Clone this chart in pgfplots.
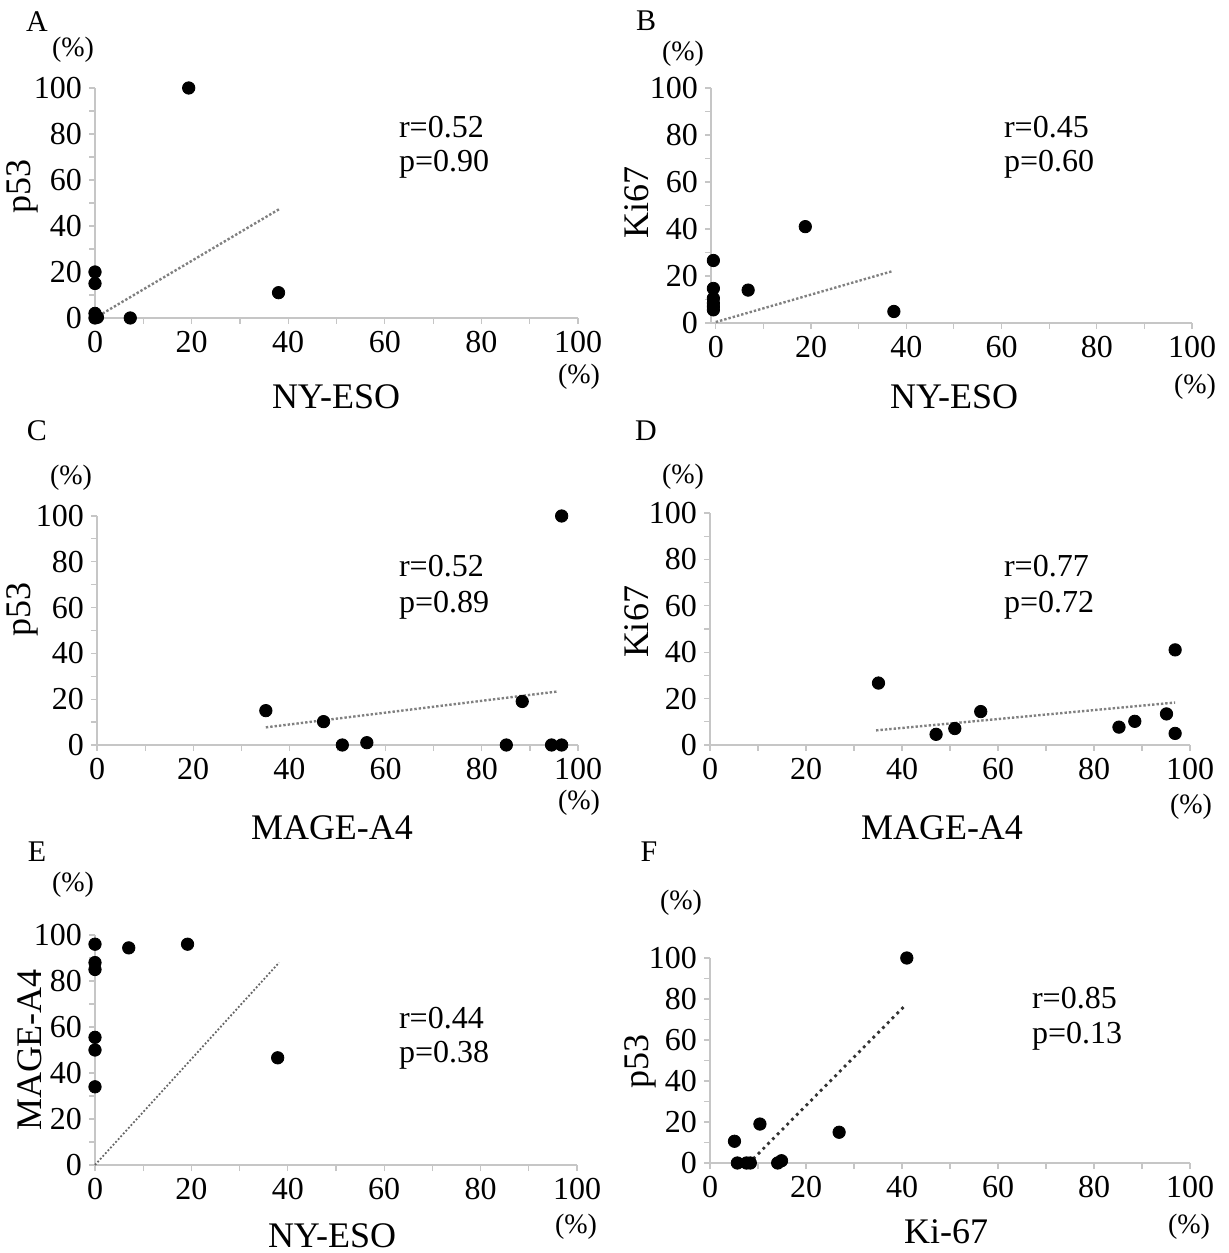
\documentclass[border=0pt]{standalone}
\usepackage{fontspec}
\setmainfont{Liberation Serif}
\usepackage{pgfplots}
\pgfplotsset{compat=1.18}
\newcommand\tickf{\fontsize{16}{18}\selectfont}
\newcommand\labf{\fontsize{18}{20}\selectfont}
\newcommand\rpf{\fontsize{16}{18}\selectfont}
\newcommand\letf{\fontsize{15}{17}\selectfont}
\newcommand\pctf{\fontsize{14}{16}\selectfont}
\pgfplotsset{
  panel/.style={scale only axis, anchor=south west,
    axis lines=left, axis line style={draw=gray!45, line width=0.8pt, -},
    xmin=0, xmax=100, ymin=0, ymax=100,
    xtick={0,20,...,100}, ytick={0,20,...,100},
    minor xtick={10,30,50,70,90}, minor ytick={10,30,50,70,90},
    tick style={draw=gray!45, line width=0.6pt},
    major tick length=3pt, minor tick length=3pt, tick align=outside,
    ticklabel style={font=\tickf},
    /pgf/number format/assume math mode=true,
    clip=false},
  pts/.style={only marks, mark=*, mark size=3.1pt, black},
  trend/.style={gray, densely dotted, line width=1.2pt}
}
\begin{document}
\begin{tikzpicture}
\path[use as bounding box] (0,0) rectangle (614pt,626.5pt);
% A
\begin{axis}[panel, at={(47.5pt,467.5pt)}, width=241.5pt, height=115pt]
\addplot[trend] coordinates {(0,0) (38.2,47.4)};
\addplot[pts] coordinates {(19.4,100) (0,20) (0,15) (0,2) (0,0) (0.5,0.3) (7.3,0) (38,11)};
\end{axis}
% B
\begin{axis}[panel, at={(355.5pt,465pt)}, width=240.5pt, height=117.5pt, xmin=-1]
\addplot[trend] coordinates {(0,0.4) (37,22)};
\addplot[pts] coordinates {(-0.5,26.6) (-0.5,14.7) (-0.5,10.5) (-0.5,8.4) (-0.5,7) (-0.5,5.6) (18.8,41) (6.8,14) (37.4,4.9)};
\end{axis}
% C
\begin{axis}[panel, at={(48.5pt,254pt)}, width=240.5pt, height=114.5pt]
\addplot[trend] coordinates {(35.1,7.7) (95.9,23.4)};
\addplot[pts] coordinates {(35.1,15) (47.1,10.2) (51,0) (56.1,1) (85.1,0) (88.4,19) (94.5,0) (96.6,0) (96.6,100)};
\end{axis}
% D
\begin{axis}[panel, at={(355pt,254pt)}, width=240pt, height=116pt]
\addplot[trend] coordinates {(34.6,6.3) (96.9,18.3)};
\addplot[pts] coordinates {(35.1,26.7) (47.1,4.6) (51,7.1) (56.4,14.4) (85.2,7.7) (88.5,10.2) (95.1,13.4) (96.9,5) (96.9,41)};
\end{axis}
% E
\begin{axis}[panel, at={(47.5pt,44pt)}, width=241pt, height=115pt]
\addplot[gray!80!black, densely dotted, line width=0.9pt] coordinates {(0,0) (38.2,88)};
\addplot[pts] coordinates {(0,96) (0,88) (0,85) (0,55.5) (0,50) (0,34) (7,94.4) (19.2,96) (37.9,46.6)};
\end{axis}
% F
\begin{axis}[panel, at={(355pt,45pt)}, width=240pt, height=102.5pt]
\addplot[black!80, dotted, line width=1.4pt] coordinates {(9,2) (40.8,77.2)};
\addplot[pts] coordinates {(41,100) (5.1,10.6) (10.4,19) (26.9,15) (5.7,0) (7.6,0) (8.4,0) (14.1,0) (14.9,1.1)};
\end{axis}
% texts
\begin{scope}[x=0.5pt, y=-0.5pt, yshift=626.5pt]
\node[font=\letf] at (37,22) {A};
\node[font=\letf] at (646,21) {B};
\node[font=\letf] at (37,431) {C};
\node[font=\letf] at (646,431) {D};
\node[font=\letf] at (37,852) {E};
\node[font=\letf] at (649,852) {F};
\node[font=\pctf] at (73,50) {(\%)};
\node[font=\pctf] at (683,54) {(\%)};
\node[font=\pctf] at (71,478) {(\%)};
\node[font=\pctf] at (683,477) {(\%)};
\node[font=\pctf] at (73,885) {(\%)};
\node[font=\pctf] at (681,903) {(\%)};
\node[font=\pctf] at (579,377) {(\%)};
\node[font=\pctf] at (1195,387) {(\%)};
\node[font=\pctf] at (579,803) {(\%)};
\node[font=\pctf] at (1191,807) {(\%)};
\node[font=\pctf] at (576,1227) {(\%)};
\node[font=\pctf] at (1189,1227) {(\%)};
\node[font=\labf] at (336,397) {NY-ESO};
\node[font=\labf] at (954,397) {NY-ESO};
\node[font=\labf] at (332,828) {MAGE-A4};
\node[font=\labf] at (942,828) {MAGE-A4};
\node[font=\labf] at (332,1236) {NY-ESO};
\node[font=\labf] at (946,1232) {Ki-67};
\node[font=\labf, rotate=90] at (22,187) {p53};
\node[font=\labf, rotate=90] at (637,203) {Ki67};
\node[font=\labf, rotate=90] at (22,610) {p53};
\node[font=\labf, rotate=90] at (637,622) {Ki67};
\node[font=\labf, rotate=90] at (30,1050) {MAGE-A4};
\node[font=\labf, rotate=90] at (640,1062) {p53};
\node[font=\rpf, anchor=west] at (392,127) {r=0.52};
\node[font=\rpf, anchor=west] at (392,164) {p=0.90};
\node[font=\rpf, anchor=west] at (997,127) {r=0.45};
\node[font=\rpf, anchor=west] at (997,164) {p=0.60};
\node[font=\rpf, anchor=west] at (392,566) {r=0.52};
\node[font=\rpf, anchor=west] at (392,605) {p=0.89};
\node[font=\rpf, anchor=west] at (997,566) {r=0.77};
\node[font=\rpf, anchor=west] at (997,605) {p=0.72};
\node[font=\rpf, anchor=west] at (392,1018) {r=0.44};
\node[font=\rpf, anchor=west] at (392,1055) {p=0.38};
\node[font=\rpf, anchor=west] at (1025,998) {r=0.85};
\node[font=\rpf, anchor=west] at (1025,1036) {p=0.13};
\end{scope}
\end{tikzpicture}
\end{document}
